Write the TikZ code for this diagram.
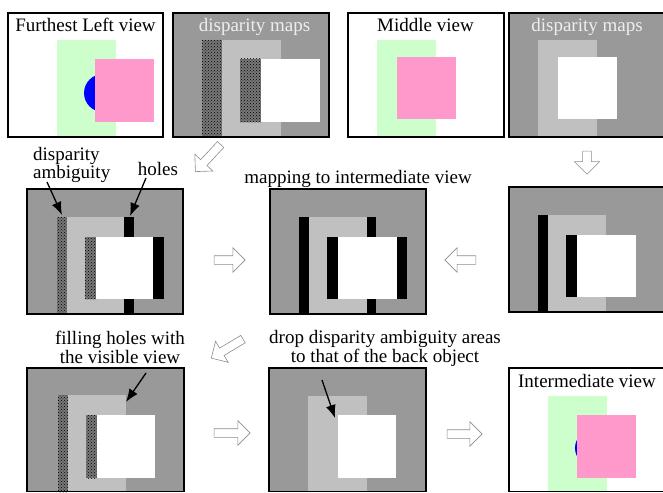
\documentclass[tikz,border=0pt]{standalone}
\usepackage{fontspec}
\setmainfont{Liberation Serif}
\usetikzlibrary{shapes.arrows,patterns,arrows.meta}
\definecolor{mapgray}{RGB}{153,153,153}
\definecolor{midgray}{RGB}{192,192,192}
\definecolor{bggreen}{RGB}{204,255,204}
\definecolor{fgpink}{RGB}{255,153,204}
\definecolor{texgray}{RGB}{120,120,120}
\definecolor{outgray}{RGB}{140,140,140}
\definecolor{mapwhite}{RGB}{238,238,238}
\begin{document}
\begin{tikzpicture}[x=1pt,y=-1pt,
  frame/.style={draw=black,line width=1.5pt},
  amb/.style={fill=texgray,postaction={pattern=crosshatch dots,pattern color=black}},
  flow/.style={single arrow,draw=outgray,fill=white,line width=0.6pt,inner sep=4pt,
    minimum width=24pt,single arrow head extend=8pt,minimum height=33pt},
  note/.style={-{Latex[length=13pt,width=10pt]},line width=1.3pt},
  lbl/.style={font=\fontsize{19}{17}\selectfont,inner sep=0pt}]
  \useasboundingbox (0,0) rectangle (663,492);
  % furthest left view
  \fill[white] (8,13) rectangle (163,137);
  \fill[bggreen] (57,40) rectangle (116,137);
  \fill[blue] (103,93) circle (19pt);
  \fill[fgpink] (95,59) rectangle (154,122);
  \draw[frame] (8,13) rectangle (163,137);
  \node[lbl,anchor=base] (lefttxt) at (85.5,32) {Furthest Left view};
  % its disparity map
  \fill[mapgray] (173,13) rectangle (329,137);
  \fill[amb] (202,40) rectangle (222,137);
  \fill[midgray] (222,40) rectangle (281,137);
  \fill[amb] (240,59) rectangle (261,122);
  \fill[white] (261,59) rectangle (320,122);
  \draw[frame] (173,13) rectangle (329,137);
  \node[lbl,anchor=base,text=mapwhite] (leftmaptxt) at (254.5,32) {disparity maps};
  % middle view
  \fill[white] (348,13) rectangle (504,137);
  \fill[bggreen] (377,40) rectangle (436,137);
  \fill[fgpink] (397,57) rectangle (456,119);
  \draw[frame] (348,13) rectangle (504,137);
  \node[lbl,anchor=base] (midtxt) at (425.5,32) {Middle view};
  % its disparity map
  \fill[mapgray] (509,13) rectangle (670,137);
  \fill[midgray] (538,40) rectangle (597,137);
  \fill[white] (558,57) rectangle (617,119);
  \draw[frame] (509,13) rectangle (670,137);
  \node[lbl,anchor=base,text=mapwhite] (midmaptxt) at (587,32) {disparity maps};
  % mapped left map
  \fill[mapgray] (27,189) rectangle (183,314);
  \fill[amb] (57,217) rectangle (67,314);
  \fill[midgray] (67,217) rectangle (124,314);
  \fill[black] (124,217) rectangle (134,314);
  \fill[amb] (85,237) rectangle (96,299);
  \fill[white] (96,237) rectangle (153,299);
  \fill[black] (153,237) rectangle (164,299);
  \draw[frame] (27,189) rectangle (183,314);
  % mapped both
  \fill[mapgray] (270,189) rectangle (426,314);
  \fill[black] (299,217) rectangle (309,314);
  \fill[midgray] (309,217) rectangle (367,314);
  \fill[black] (367,217) rectangle (376,314);
  \fill[black] (327,237) rectangle (338,299);
  \fill[white] (338,237) rectangle (397,299);
  \fill[black] (397,237) rectangle (407,299);
  \draw[frame] (270,189) rectangle (426,314);
  % mapped middle map
  \fill[mapgray] (509,187) rectangle (670,312);
  \fill[black] (538,215) rectangle (548,312);
  \fill[midgray] (548,215) rectangle (606,312);
  \fill[black] (566,235) rectangle (577,297);
  \fill[white] (577,235) rectangle (636,297);
  \draw[frame] (509,187) rectangle (670,312);
  % holes filled
  \fill[mapgray] (27,368) rectangle (184,492);
  \fill[amb] (58,395) rectangle (68,492);
  \fill[midgray] (68,395) rectangle (126,492);
  \fill[amb] (86,415) rectangle (97,478);
  \fill[white] (97,415) rectangle (155,478);
  \draw[frame] (27,368) rectangle (184,491.5);
  % ambiguity dropped
  \fill[mapgray] (269,368) rectangle (426,492);
  \fill[midgray] (308,396) rectangle (367,492);
  \fill[white] (338,415) rectangle (396,478);
  \draw[frame] (269,368) rectangle (426,491.5);
  % intermediate view
  \fill[white] (509,368) rectangle (670,492);
  \fill[bggreen] (548,396) rectangle (607,492);
  \fill[blue] (593,448) circle (18pt);
  \fill[fgpink] (577,415) rectangle (636,478);
  \draw[frame] (509,368) rectangle (670,491.5);
  \node[lbl,anchor=base] (intertxt) at (587,387) {Intermediate view};
  % hollow arrows
  \node[flow,rotate=227,minimum height=37pt] (step1) at (209.5,156.5) {};
  \node[flow,rotate=270,minimum height=23pt,minimum width=25pt] (step2) at (587,160.5) {};
  \node[flow,minimum height=31pt] (step3) at (227.5,260) {};
  \node[flow,rotate=180,minimum height=31pt] (step4) at (462.5,260) {};
  \node[flow,rotate=211,minimum height=37pt] (step5) at (229,347.5) {};
  \node[flow,minimum height=36pt] (step6) at (230,433) {};
  \node[flow,minimum height=35pt] (step7) at (462.5,434) {};
  % labels
  \node[lbl,anchor=base west,align=left,font=\fontsize{19}{18}\selectfont] (ambigtxt) at (33,178) {disparity\\ambiguity};
  \node[lbl,anchor=base] (holestxt) at (158,175) {holes};
  \node[lbl,anchor=base] (maptxt) at (358,183) {mapping to intermediate view};
  \node[lbl,anchor=base,align=center,font=\fontsize{19}{15}\selectfont] (filltxt) at (120,363) {filling holes with\\the visible view};
  \node[lbl,anchor=base,align=center,font=\fontsize{19}{17}\selectfont] (droptxt) at (385,362) {drop disparity ambiguity areas\\to that of the back object};
  % callouts
  \coordinate (ambigfrom) at (47,182);
  \coordinate (ambigtip) at (62,215);
  \coordinate (holesfrom) at (146,178);
  \coordinate (holestip) at (130,216);
  \coordinate (fillfrom) at (146,373);
  \coordinate (filltip) at (126,402);
  \coordinate (dropfrom) at (322,380);
  \coordinate (droptip) at (335,418);
  \draw[note] (ambigfrom) -- (ambigtip);
  \draw[note] (holesfrom) -- (holestip);
  \draw[note] (fillfrom) -- (filltip);
  \draw[note] (dropfrom) -- (droptip);
\end{tikzpicture}
\end{document}
